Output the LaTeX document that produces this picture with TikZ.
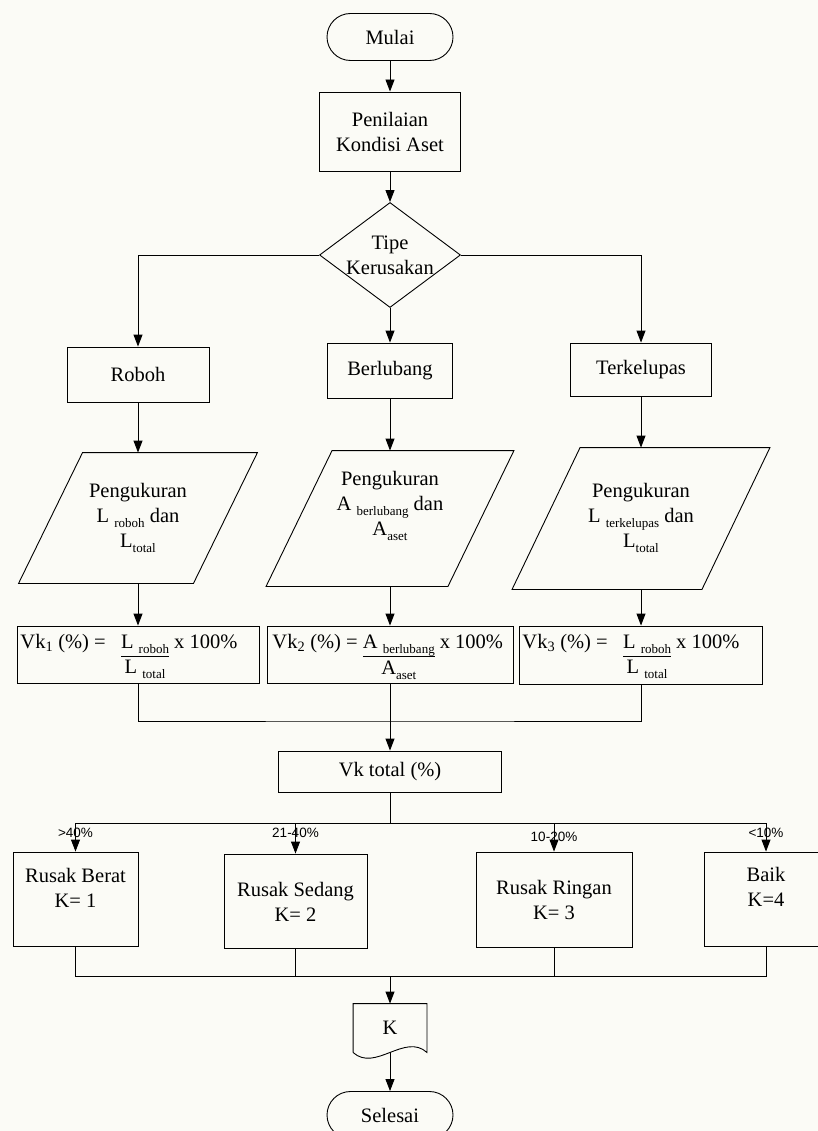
\documentclass[tikz,border=0pt]{standalone}
\usepackage{fontspec}
\setmainfont{Liberation Serif}
\newfontfamily\labfont{Liberation Sans}
\usetikzlibrary{arrows.meta,calc,shapes.geometric}
\definecolor{bgc}{RGB}{251,251,246}
\setlength{\arrayrulewidth}{0.9pt}
\newcommand{\lsub}[1]{\raisebox{-5pt}{\fontsize{13}{13}\selectfont #1}}
\newcommand{\vkfrac}[2]{\begin{tabular}[t]{@{}c@{}}#1\\\hline #2\end{tabular}}
\begin{document}
\begin{tikzpicture}[x=1pt,y=-1pt,
  font=\fontsize{20.5}{25}\selectfont, line width=0.9pt,
  box/.style={draw, rectangle, inner sep=0pt, align=center},
  term/.style={draw, rectangle, rounded corners=23.5pt, inner sep=0pt, minimum width=126pt, minimum height=47pt},
  plain/.style={inner sep=0pt, align=center},
  arr/.style={-{Triangle[length=12pt,width=9pt]}},
  lab/.style={inner sep=0pt, font=\labfont\fontsize{13.5}{15}\selectfont}]
\fill[bgc] (0,0) rectangle (818,1131);
\useasboundingbox (0,0) rectangle (818,1131);

% top
\node[term] (mulai) at (390,37) {Mulai};
\node[box, minimum width=141pt, minimum height=79pt] (nilai) at (390,131.5) {Penilaian\\Kondisi Aset};
\node[diamond, draw, minimum width=141pt, minimum height=105pt, inner sep=0pt] (tipe) at (390,255) {};
\node[plain] (tipet) at (tipe.center) {Tipe\\Kerusakan};

\node[box, minimum width=142pt, minimum height=55pt] (roboh) at (138,374.5) {Roboh};
\node[box, minimum width=125pt, minimum height=55pt] (berl) at (390,370.5) {Berlubang};
\node[box, minimum width=141pt, minimum height=53pt] (terk) at (641,369.5) {Terkelupas};

\draw[arr] (mulai) -- (nilai);
\draw[arr] (nilai) -- (tipe);
\draw[arr] (tipe.west) -| (roboh.north);
\draw[arr] (tipe.south) -- (berl.north);
\draw[arr] (tipe.east) -| (terk.north);

% parallelograms
\node[inner sep=0pt, minimum width=238pt, minimum height=130pt] (p1) at (138,518) {};
\node[inner sep=0pt, minimum width=247pt, minimum height=135pt] (p2) at (390,518.5) {};
\node[inner sep=0pt, minimum width=257pt, minimum height=141pt] (p3) at (641,518.5) {};
\draw ($(p1.north west)+(64,0)$) -- (p1.north east) -- ($(p1.south east)+(-64,0)$) -- (p1.south west) -- cycle;
\draw ($(p2.north west)+(66,0)$) -- (p2.north east) -- ($(p2.south east)+(-66,0)$) -- (p2.south west) -- cycle;
\draw ($(p3.north west)+(68,0)$) -- (p3.north east) -- ($(p3.south east)+(-68,0)$) -- (p3.south west) -- cycle;
\node[plain] (p1t) at (138,518) {Pengukuran\\L \lsub{roboh} dan\\L\lsub{total}};
\node[plain] (p2t) at (390,506) {Pengukuran\\A \lsub{berlubang} dan\\A\lsub{aset}};
\node[plain] (p3t) at (641,518) {Pengukuran\\L \lsub{terkelupas} dan\\L\lsub{total}};

\draw[arr] (roboh.south) -- (p1.north);
\draw[arr] (berl.south) -- (p2.north);
\draw[arr] (terk.south) -- (p3.north);

% Vk boxes
\node[box, minimum width=242pt, minimum height=57pt] (vk1) at (138,654.5) {};
\node[box, minimum width=246pt, minimum height=57pt] (vk2) at (390,654.5) {};
\node[box, minimum width=243pt, minimum height=58pt] (vk3) at (641,655) {};
\node[anchor=base west, inner sep=0pt] (vk1t) at (20,648) {Vk\textsubscript{1} (\%) = \ \ \vkfrac{L \lsub{roboh}}{L \lsub{total}} x 100\%};
\node[anchor=base west, inner sep=0pt] (vk2t) at (272,648) {Vk\textsubscript{2} (\%) = \vkfrac{A \lsub{berlubang}}{A\lsub{aset}} x 100\%};
\node[anchor=base west, inner sep=0pt] (vk3t) at (522,648) {Vk\textsubscript{3} (\%) = \ \ \vkfrac{L \lsub{roboh}}{L \lsub{total}} x 100\%};

\draw[arr] (p1.south) -- (vk1.north);
\draw[arr] (p2.south) -- (vk2.north);
\draw[arr] (p3.south) -- (vk3.north);

% merge to Vk total
\node[box, minimum width=223pt, minimum height=41pt] (vktot) at (390,771.5) {Vk total (\%)};
\coordinate (m1) at (390,721);
\draw (vk1.south) |- (m1) -| (vk3.south);
\draw[arr] (vk2.south) -- (vktot.north);

% classes
\node[box, minimum width=125pt, minimum height=94pt] (rb) at (75.5,899) {};
\node[box, minimum width=143pt, minimum height=94pt] (rs) at (295.5,901) {};
\node[box, minimum width=156pt, minimum height=95pt] (rr) at (554,899.5) {};
\node[box, minimum width=124pt, minimum height=94pt] (bk) at (766,899) {};
\node[plain] (rbt) at (75.5,887.5) {Rusak Berat\\K= 1};
\node[plain] (rst) at (295.5,901.5) {Rusak Sedang\\K= 2};
\node[plain] (rrt) at (554,899.5) {Rusak Ringan\\K= 3};
\node[plain] (bkt) at (766,886.5) {Baik\\K=4};

\coordinate (m2) at (390,823);
\draw (vktot.south) -- (m2);
\draw[arr] (m2) -| (rb.north);
\draw[arr] (m2) -| (rs.north);
\draw[arr] (m2) -| (rr.north);
\draw[arr] (m2) -| (bk.north);
\node[lab] (l1) at (75.5,833) {>40\%};
\node[lab] (l2) at (295.5,833) {21-40\%};
\node[lab] (l3) at (554,837) {10-20\%};
\node[lab] (l4) at (766,833) {<10\%};

% bottom
\coordinate (m3) at (390,976);
\draw (rb.south) |- (m3) -| (bk.south);
\draw (rs.south) -- (rs.south |- m3);
\draw (rr.south) -- (rr.south |- m3);

\node[inner sep=0pt, minimum width=73pt, minimum height=48pt] (kdoc) at (390,1028) {K};
\draw (kdoc.south west) -- (kdoc.north west) -- (kdoc.north east) -- (kdoc.south east)
  .. controls +(-22,-20) and +(22,20) .. (kdoc.south west);
\draw[arr] (m3) -- (kdoc.north);

\node[term] (selesai) at (390,1115) {Selesai};
\draw[arr] (kdoc.south) -- (selesai.north);
\end{tikzpicture}
\end{document}
